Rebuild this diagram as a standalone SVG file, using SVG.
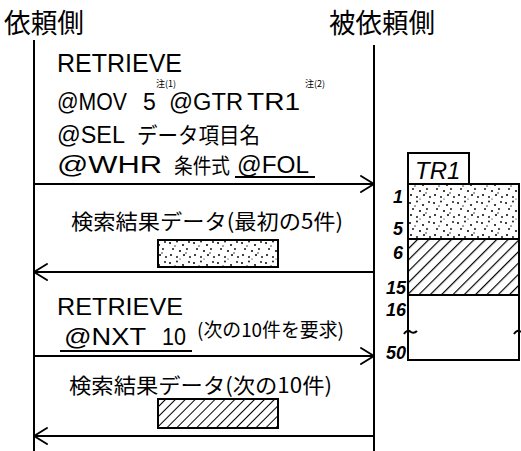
<svg xmlns="http://www.w3.org/2000/svg" width="521" height="451" viewBox="0 0 521 451">
<style>
.t{font-family:"Liberation Sans","Noto Sans CJK JP",sans-serif;fill:#000}
.j{font-family:"Noto Sans CJK JP","Liberation Sans",sans-serif;fill:#000}
.ln{stroke:#000;stroke-width:2;fill:none}
.ah{stroke:#000;stroke-width:2;fill:none;stroke-linecap:round;stroke-linejoin:round}
</style>
<defs>
<pattern id="stip" width="24" height="20" patternUnits="userSpaceOnUse">
<rect width="24" height="20" fill="#fff"/>
<g fill="#000">
<circle cx="2" cy="3" r="1"/><circle cx="9" cy="1.5" r="0.9"/><circle cx="15" cy="5" r="1"/><circle cx="21" cy="2" r="0.9"/>
<circle cx="5" cy="9" r="0.9"/><circle cx="12" cy="11" r="1"/><circle cx="19" cy="9" r="0.9"/>
<circle cx="3" cy="15" r="1"/><circle cx="9" cy="17" r="0.9"/><circle cx="16" cy="15" r="1"/><circle cx="22" cy="17" r="0.9"/>
<circle cx="7" cy="6" r="0.7"/><circle cx="18" cy="13" r="0.7"/><circle cx="12" cy="19" r="0.6"/>
</g>
</pattern>
<pattern id="hatch" width="8" height="8" patternUnits="userSpaceOnUse" patternTransform="rotate(45)">
<rect width="8" height="8" fill="#fff"/>
<line x1="0" y1="0" x2="0" y2="8" stroke="#000" stroke-width="2.4"/>
</pattern>
<pattern id="hatch2" width="7" height="7" patternUnits="userSpaceOnUse" patternTransform="rotate(45)">
<rect width="7" height="7" fill="#fff"/>
<line x1="0" y1="0" x2="0" y2="7" stroke="#000" stroke-width="2"/>
</pattern>
</defs>
<rect width="521" height="451" fill="#fff"/>

<g id="requester">
<text class="j" x="4" y="33" font-size="27" textLength="80" lengthAdjust="spacingAndGlyphs">依頼側</text>
<line class="ln" x1="34" y1="40" x2="34" y2="451"/>
</g>
<g id="responder">
<text class="j" x="329" y="33" font-size="27" textLength="106" lengthAdjust="spacingAndGlyphs">被依頼側</text>
<line class="ln" x1="374" y1="45" x2="374" y2="451"/>
</g>

<g id="msg1">
<text class="t" x="57" y="72" font-size="26" textLength="125" lengthAdjust="spacingAndGlyphs">RETRIEVE</text>
<text class="t" x="57" y="110" font-size="23" textLength="70" lengthAdjust="spacingAndGlyphs">@MOV</text>
<text class="t" x="143" y="110" font-size="23">5</text>
<text class="j" x="156" y="86.5" font-size="9">注(1)</text>
<text class="t" x="169" y="110" font-size="23" textLength="74" lengthAdjust="spacingAndGlyphs">@GTR</text>
<text class="t" x="247" y="110" font-size="23" textLength="53" lengthAdjust="spacingAndGlyphs">TR1</text>
<text class="j" x="305" y="86.5" font-size="9">注(2)</text>
<text class="t" x="57" y="143" font-size="23" textLength="68" lengthAdjust="spacingAndGlyphs">@SEL</text>
<text class="j" x="137" y="143" font-size="22" textLength="123" lengthAdjust="spacingAndGlyphs">データ項目名</text>
<text class="t" x="57" y="173" font-size="23" textLength="105" lengthAdjust="spacingAndGlyphs">@WHR</text>
<text class="j" x="174" y="173" font-size="21" textLength="56" lengthAdjust="spacingAndGlyphs">条件式</text>
<text class="t" x="237" y="173" font-size="23" textLength="72" lengthAdjust="spacingAndGlyphs">@FOL</text>
<line class="ln" x1="235" y1="177" x2="315" y2="177"/>
</g>

<g id="result1">
<text class="j" x="71" y="229" font-size="21" textLength="272" lengthAdjust="spacingAndGlyphs">検索結果データ(最初の5件)</text>
<rect x="158" y="240" width="120" height="27" fill="url(#stip)" stroke="#000" stroke-width="2"/>
</g>

<g id="msg2">
<text class="t" x="57" y="315" font-size="24" textLength="126" lengthAdjust="spacingAndGlyphs">RETRIEVE</text>
<text class="t" x="64" y="345" font-size="24" textLength="82" lengthAdjust="spacingAndGlyphs">@NXT</text>
<text class="t" x="162" y="345" font-size="24" textLength="24" lengthAdjust="spacingAndGlyphs">10</text>
<line class="ln" x1="60" y1="351" x2="192" y2="351"/>
<text class="j" x="197" y="337" font-size="19" textLength="147" lengthAdjust="spacingAndGlyphs">(次の10件を要求)</text>
</g>

<g id="result2">
<text class="j" x="69" y="393" font-size="21" textLength="263" lengthAdjust="spacingAndGlyphs">検索結果データ(次の10件)</text>
<rect x="158" y="399" width="120" height="29" fill="url(#hatch2)" stroke="#000" stroke-width="2"/>
</g>

<g id="tr1">
<rect x="408" y="153" width="61" height="31" fill="#fff" stroke="#000" stroke-width="2"/>
<text class="t" x="415" y="179" font-size="24" font-style="italic">TR1</text>
<rect x="408" y="184" width="111" height="55" fill="url(#stip)" stroke="#000" stroke-width="2"/>
<rect x="408" y="239" width="111" height="56" fill="url(#hatch)" stroke="#000" stroke-width="2"/>
<rect x="408" y="295" width="111" height="65" fill="#fff" stroke="#000" stroke-width="2"/>
<path class="ln" d="M404,334 q3,-5 7,-2 q3,2 6,-1"/>
<path class="ln" d="M514,334 q3,-5 7,-2"/>
<g class="t" font-size="18" font-style="italic" font-weight="bold" text-anchor="end">
<text x="403" y="203">1</text>
<text x="403" y="235">5</text>
<text x="403" y="259">6</text>
<text x="406" y="294">15</text>
<text x="406" y="316">16</text>
<text x="406" y="359">50</text>
</g>
</g>

<g id="connectors">
<line class="ln" x1="34" y1="184" x2="374" y2="184"/>
<path class="ah" d="M361,176 L374,184 L361,192"/>
<line class="ln" x1="34" y1="272" x2="374" y2="272"/>
<path class="ah" d="M47,264 L34,272 L47,280"/>
<line class="ln" x1="34" y1="356" x2="374" y2="356"/>
<path class="ah" d="M361,348 L374,356 L361,364"/>
<line class="ln" x1="34" y1="436" x2="374" y2="436"/>
<path class="ah" d="M47,428 L34,436 L47,444"/>
</g>
</svg>
